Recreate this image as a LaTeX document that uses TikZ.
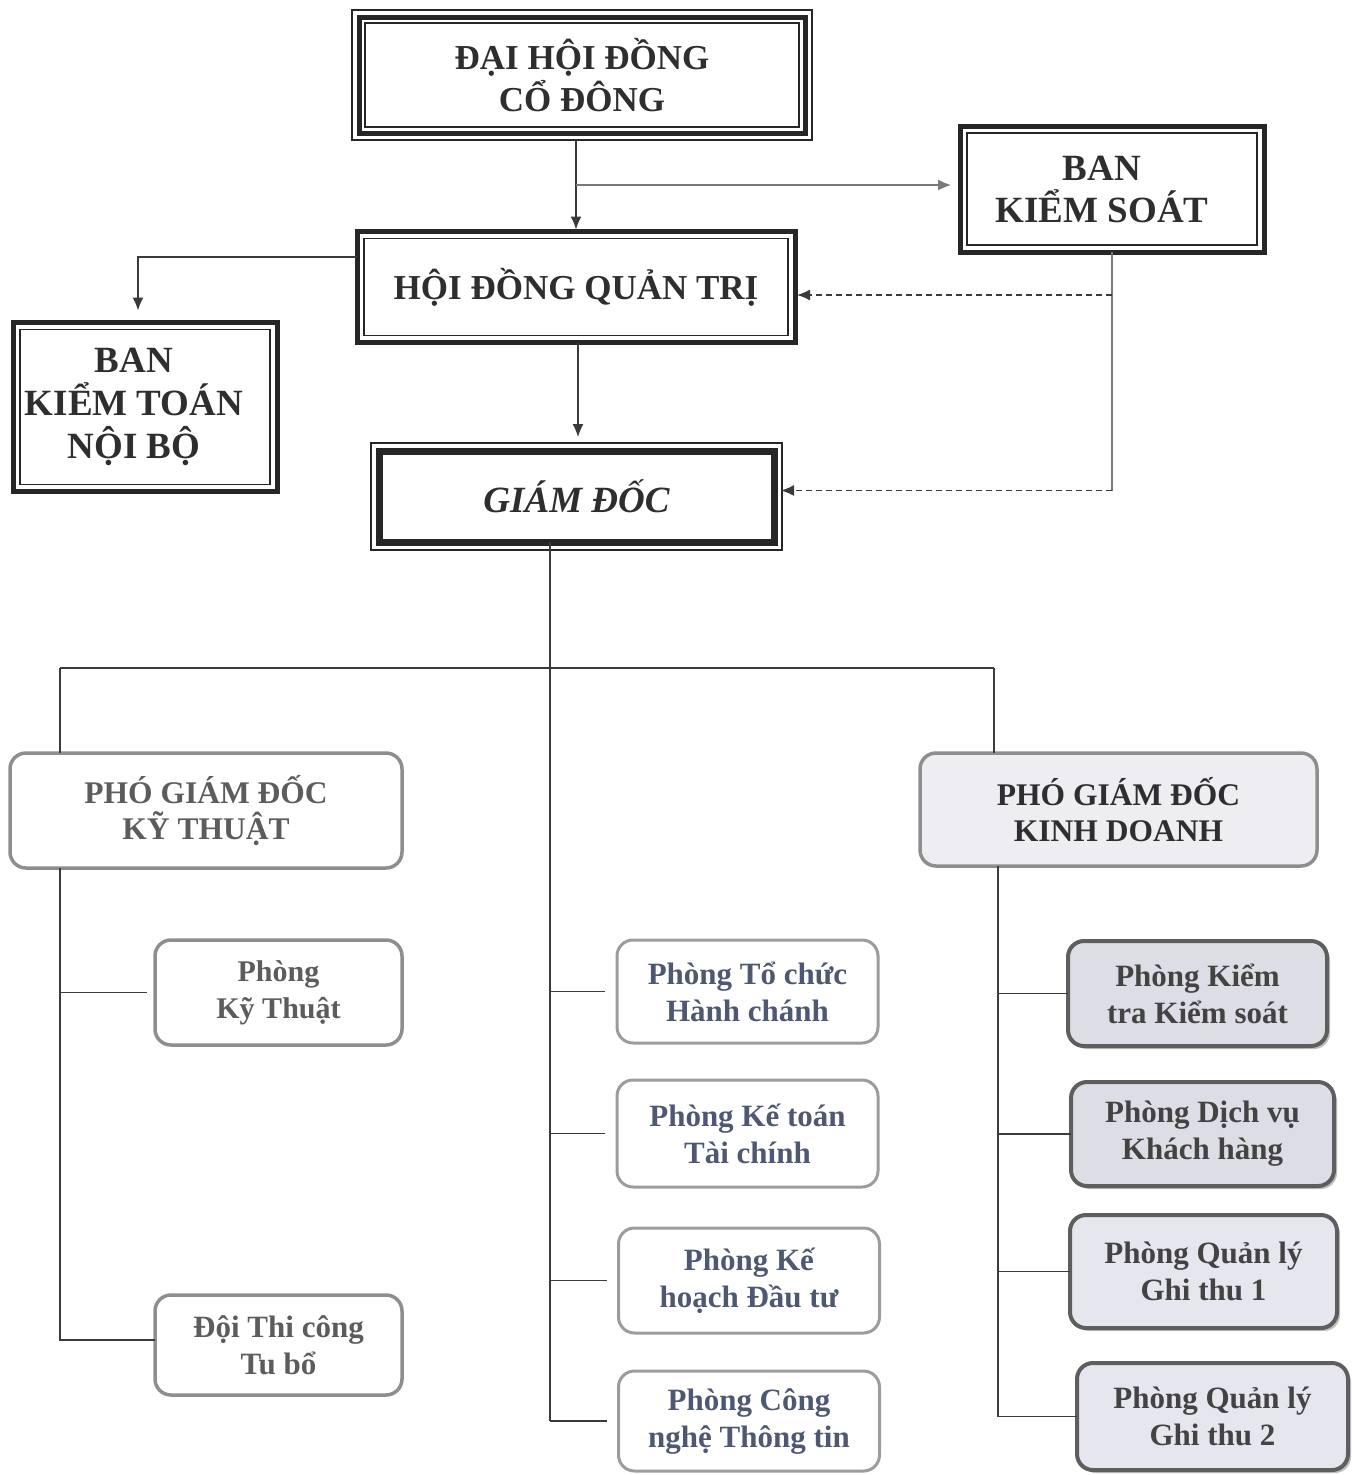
\documentclass[tikz,border=0pt]{standalone}
\usepackage{fontspec}
\setmainfont{Liberation Serif}
\usetikzlibrary{arrows.meta,shadows,calc}
\definecolor{ink}{HTML}{2E2E2E}
\definecolor{midtxt}{HTML}{4E5872}
\definecolor{lefttxt}{HTML}{5C5C5C}
\definecolor{leftbd}{HTML}{8E8E8E}
\definecolor{midbd}{HTML}{9C9C9C}
\definecolor{rightbd}{HTML}{5E5E5E}
\definecolor{rightfill}{HTML}{DDDDE5}
\definecolor{rightfillb}{HTML}{E6E6EE}
\definecolor{kdfill}{HTML}{EEEEF2}
\definecolor{linec}{HTML}{3A3A3A}
\definecolor{grayarr}{HTML}{7A7A7A}
\begin{document}
\begin{tikzpicture}[x=1pt,y=-1pt,
  topbox/.style={draw=black!85, line width=5pt, outer sep=0pt, inner sep=0pt, align=center,
    text=ink, font=\bfseries\fontsize{35}{42}\selectfont},
  thinframe/.style={draw=black!85, line width=1.6pt},
  rbox/.style={rounded corners=16pt, line width=3.5pt, outer sep=0pt, inner sep=0pt, align=center,
    font=\bfseries\fontsize{31}{37}\selectfont},
  leftbox/.style={rbox, draw=leftbd, text=lefttxt, fill=white},
  midbox/.style={rbox, draw=midbd, text=midtxt, fill=white, line width=3pt},
  rightbox/.style={rbox, draw=rightbd, text=ink!90, fill=rightfill, line width=4pt,
    drop shadow={shadow xshift=3pt, shadow yshift=-3pt, opacity=0.25, fill=black}},
  conn/.style={draw=linec, line width=1.4pt},
  arr/.style={-{Latex[length=13pt,width=11pt]}},
  dashln/.style={draw=linec, line width=1.4pt, dash pattern=on 6pt off 4pt}
]
\fill[white] (0,0) rectangle (1354,1475);
\useasboundingbox (0,0) rectangle (1354,1475);

% ---- top boxes ----
\node[topbox, minimum width=446, minimum height=116] (dh) at (582,75) {ĐẠI HỘI ĐỒNG\\CỔ ĐÔNG};
\draw[thinframe] ([shift={(-7,-7)}]dh.north west) rectangle ([shift={(7,7)}]dh.south east);
\draw[thinframe] ([shift={(6,6)}]dh.north west) rectangle ([shift={(-6,-6)}]dh.south east);

\node[topbox, minimum width=304, minimum height=126, font=\bfseries\fontsize{37}{42}\selectfont] (bks) at (1112,189) {BAN\kern20pt\\KIỂM SOÁT\kern20pt};
\draw[thinframe] ([shift={(7,7)}]bks.north west) rectangle ([shift={(-7,-7)}]bks.south east);

\node[topbox, minimum width=438, minimum height=111] (hdqt) at (576,287) {\raisebox{-4pt}{HỘI ĐỒNG QUẢN TRỊ}};
\draw[thinframe] ([shift={(7,7)}]hdqt.north west) rectangle ([shift={(-7,-7)}]hdqt.south east);

\node[topbox, minimum width=264, minimum height=169, font=\bfseries\fontsize{37}{43}\selectfont] (bktnb) at (145,407) {BAN\kern22pt\\KIỂM TOÁN\kern22pt\\NỘI BỘ\kern22pt};
\draw[thinframe] ([shift={(7,7)}]bktnb.north west) rectangle ([shift={(-7,-7)}]bktnb.south east);

\node[topbox, line width=7pt, minimum width=395, minimum height=91, font=\bfseries\itshape\fontsize{37}{42}\selectfont] (gd) at (576.5,496.5) {GIÁM ĐỐC};
\draw[thinframe] ([shift={(-8,-8)}]gd.north west) rectangle ([shift={(8,8)}]gd.south east);

% ---- deputies ----
\node[leftbox, minimum width=392, minimum height=115, font=\bfseries\fontsize{31.5}{36}\selectfont] (pgdkt) at (206,810.5) {PHÓ GIÁM ĐỐC\\KỸ THUẬT};
\node[rbox, draw=leftbd, fill=kdfill, text=ink, minimum width=397, minimum height=113, font=\bfseries\fontsize{31.5}{36}\selectfont] (pgdkd) at (1118.5,809.5) {PHÓ GIÁM ĐỐC\\KINH DOANH};

% ---- left departments ----
\node[leftbox, minimum width=247, minimum height=105, font=\bfseries\fontsize{30}{37}\selectfont] (pkt) at (278.5,992.5) {\raisebox{-4pt}{Phòng}\\\raisebox{-4pt}{Kỹ Thuật}};
\node[leftbox, minimum width=247, minimum height=100] (doi) at (278.5,1345) {Đội Thi công\\Tu bổ};

% ---- middle departments ----
\node[midbox, minimum width=261, minimum height=103] (tchc) at (747.5,991.5) {Phòng Tổ chức\\Hành chánh};
\node[midbox, minimum width=261, minimum height=107] (ktc) at (747.5,1133.5) {Phòng Kế toán\\Tài chính};
\node[midbox, minimum width=261, minimum height=105] (khdt) at (749,1280.5) {Phòng Kế\\hoạch Đầu tư};
\node[midbox, minimum width=261, minimum height=100] (cntt) at (749,1421) {Phòng Công\\nghệ Thông tin};

% ---- right departments ----
\node[rightbox, minimum width=259, minimum height=105] (ktks) at (1197.5,993.5) {Phòng Kiểm\\tra Kiểm soát};
\node[rightbox, minimum width=263, minimum height=104] (dvkh) at (1202.5,1134) {Phòng Dịch vụ\\Khách hàng};
\node[rightbox, fill=rightfillb, minimum width=267, minimum height=113] (ql1) at (1203.5,1271.5) {Phòng Quản lý\\Ghi thu 1};
\node[rightbox, fill=rightfillb, minimum width=271, minimum height=107] (ql2) at (1212.5,1416.5) {Phòng Quản lý\\Ghi thu 2};

% ---- top connectors ----
\draw[conn,arr] ($(hdqt.north |- dh.south)+(0,7)$) -- ([yshift=2pt]hdqt.north);
\draw[draw=grayarr, line width=1.2pt, -{Latex[length=13pt,width=11pt]}] ($(hdqt.north |- bks.west)+(0,-4)$) -- ($(bks.west)+(-9,-4)$);
\draw[conn,arr,shorten >=12pt] ([yshift=30pt]hdqt.west) -| ([xshift=-7pt]bktnb.north);
\draw[conn,arr,shorten >=14pt] ([xshift=2pt]hdqt.south) -- ([xshift=1.5pt]gd.north);
\coordinate (gdin) at ([yshift=6pt]gd.east);
\coordinate (hqin) at ([yshift=-8pt]hdqt.east);
\draw[draw=grayarr, line width=1.2pt] (bks.south) -- (bks.south |- gdin);
\draw[dashln,arr] (bks.south |- hqin) -- ([xshift=2pt]hqin);
\draw[dashln,arr,shorten >=7pt] (bks.south |- gdin) -- (gdin);

% ---- lower tree ----
\coordinate (busL) at (60,668);
\coordinate (busR) at (994,668);
\coordinate (trunkM) at (550,1421);
\coordinate (trunkR) at (998,1416.5);
\draw[conn] (gd.south -| trunkM) -- (trunkM);
\draw[conn] (busL) -- (busR);
\draw[conn] (busL) -- (busL |- pgdkt.north);
\draw[conn] (busR) -- (busR |- pgdkd.north);
\draw[conn] (busL |- pgdkt.south) |- ([yshift=5pt]doi.west);
\draw[conn] (busL |- pkt.west) -- ([xshift=-8pt]pkt.west);
\draw[conn] (trunkM |- tchc.west) -- ([xshift=-12pt]tchc.west);
\draw[conn] (trunkM |- ktc.west) -- ([xshift=-12pt]ktc.west);
\draw[conn] (trunkM |- khdt.west) -- ([xshift=-12pt]khdt.west);
\draw[conn] (trunkM) -- ([xshift=-12pt]cntt.west);
\draw[conn] (pgdkd.south -| trunkR) -- (trunkR);
\draw[conn] (trunkR |- ktks.west) -- (ktks.west);
\draw[conn] (trunkR |- dvkh.west) -- (dvkh.west);
\draw[conn] (trunkR |- ql1.west) -- (ql1.west);
\draw[conn] (trunkR) -- (ql2.west);
\end{tikzpicture}
\end{document}
